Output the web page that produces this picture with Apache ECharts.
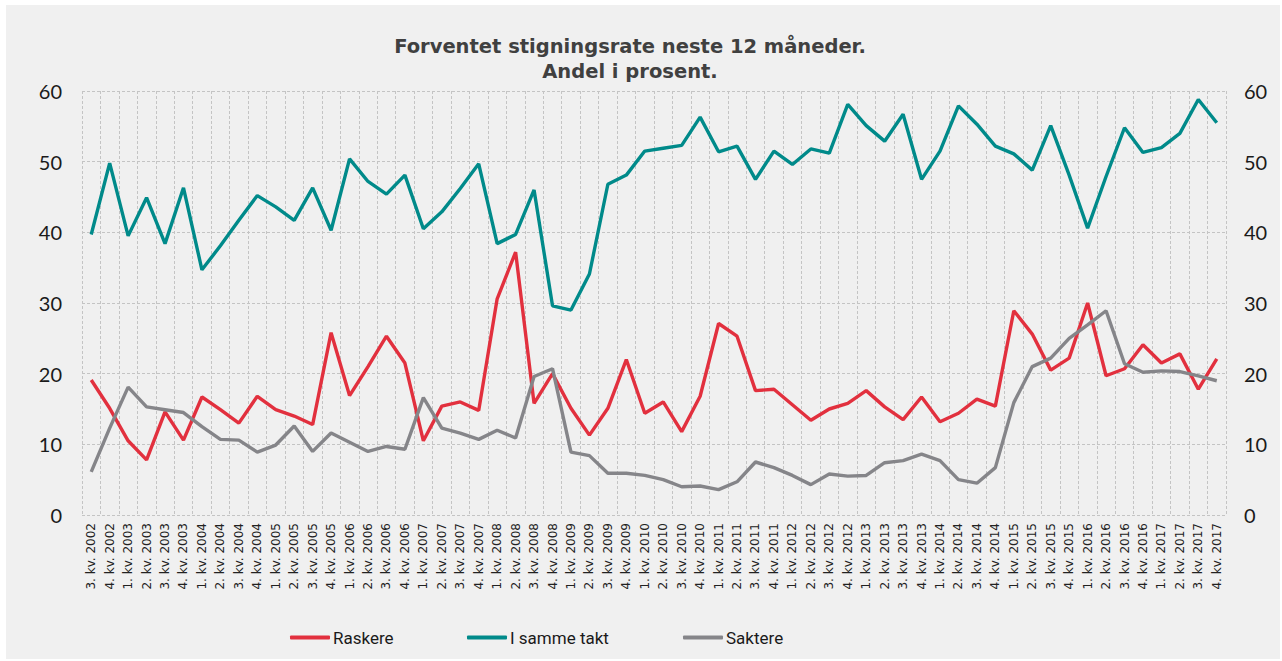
<!DOCTYPE html>
<html lang="no">
<head>
<meta charset="UTF-8">
<title>Forventet stigningsrate</title>
<script src="https://cdn.jsdelivr.net/npm/echarts@6/dist/echarts.min.js"></script>
<style>
  html, body { margin: 0; padding: 0; background: #fff; }
  #box { position: absolute; left: 6px; top: 5px; width: 1274px; height: 654px; background: #f0f0f0; }
  #chart { position: absolute; left: -6px; top: -5px; width: 1282px; height: 661px; }
</style>
</head>
<body>
<div id="box"><div id="chart"></div></div>
<script>
// kvartaler 3. kv. 2002 - 4. kv. 2017
var quarters = [];
quarters.push('3. kv. 2002', '4. kv. 2002');
for (var yr = 2003; yr <= 2017; yr++) {
    for (var q = 1; q <= 4; q++) quarters.push(q + '. kv. ' + yr);
}

var raskere = [19.1, 15.1, 10.5, 7.8, 14.6, 10.6, 16.7, 14.9, 13.0, 16.8,
    14.9, 14.0, 12.8, 25.8, 16.9, 21.0, 25.3, 21.5, 10.5, 15.4,
    16.0, 14.8, 30.6, 37.2, 15.8, 20.0, 15.1, 11.3, 15.1, 22.0,
    14.4, 16.0, 11.8, 16.8, 27.1, 25.3, 17.6, 17.8, 15.6, 13.4,
    15.0, 15.8, 17.6, 15.3, 13.5, 16.7, 13.2, 14.4, 16.4, 15.4,
    28.9, 25.6, 20.5, 22.2, 30.0, 19.7, 20.7, 24.1, 21.5, 22.8,
    17.8, 22.1];

var sammeTakt = [39.7, 49.8, 39.5, 44.9, 38.4, 46.3, 34.7, 38.1, 41.7, 45.2,
    43.6, 41.7, 46.3, 40.3, 50.4, 47.2, 45.4, 48.1, 40.5, 42.9,
    46.2, 49.7, 38.4, 39.7, 46.0, 29.6, 29.0, 34.1, 46.8, 48.1,
    51.5, 51.9, 52.3, 56.3, 51.4, 52.2, 47.5, 51.5, 49.6, 51.8,
    51.2, 58.1, 55.1, 52.9, 56.7, 47.5, 51.5, 57.9, 55.3, 52.2,
    51.1, 48.8, 55.1, 48.1, 40.6, 47.9, 54.8, 51.3, 52.0, 54.0,
    58.8, 55.5];

var saktere = [6.1, 12.3, 18.1, 15.3, 14.9, 14.5, 12.5, 10.7, 10.6, 8.9,
    9.9, 12.6, 9.0, 11.6, 10.3, 9.0, 9.7, 9.3, 16.6, 12.3,
    11.6, 10.7, 12.0, 10.9, 19.6, 20.7, 8.9, 8.4, 5.9, 5.9,
    5.6, 5.0, 4.0, 4.1, 3.6, 4.7, 7.5, 6.7, 5.6, 4.3,
    5.8, 5.5, 5.6, 7.4, 7.7, 8.6, 7.7, 5.0, 4.5, 6.7,
    15.9, 21.0, 22.2, 25.0, 26.9, 28.9, 21.4, 20.2, 20.4, 20.3,
    19.7, 19.0];

var seriesNames = ['Raskere', 'I samme takt', 'Saktere'];
var seriesColors = ['#e2303e', '#008a8a', '#858589'];
var legendLeft = [290, 467, 683];

var chart = echarts.init(document.getElementById('chart'), null, {renderer: 'svg'});

var gridLine = {show: true, lineStyle: {color: '#c4c4c4', type: [3, 2], width: 1}};
var valueLabel = {color: '#1a1a1a', fontSize: 20, fontFamily: 'Lato'};

// en legende per serie, så de står der de står i originalen
var legends = seriesNames.map(function (name, i) {
    return {
        bottom: 15,
        left: legendLeft[i],
        padding: 0,
        itemWidth: 40,
        itemHeight: 4,
        icon: 'roundRect',
        textStyle: {color: '#1a1a1a', fontSize: 17, fontFamily: 'Roboto', padding: [0, 0, 0, -2]},
        data: [name]
    };
});

chart.setOption({
    backgroundColor: 'transparent',
    title: {
        text: 'Forventet stigningsrate neste 12 måneder.\nAndel i prosent.',
        left: 625,
        textAlign: 'center',
        top: 29,
        textStyle: {
            color: '#404040',
            fontSize: 19.5,
            fontWeight: 'bold',
            fontFamily: 'DejaVu Sans',
            lineHeight: 25
        }
    },
    legend: legends,
    grid: {left: 82, right: 56, top: 91, bottom: 146},
    xAxis: {
        type: 'category',
        data: quarters,
        boundaryGap: true,
        axisLine: {show: false},
        axisTick: {show: false},
        splitLine: gridLine,
        axisLabel: {
            interval: 0,
            rotate: 90,
            margin: 8,
            fontSize: 12,
            color: '#222',
            fontFamily: 'DejaVu Sans'
        }
    },
    yAxis: [
        {
            type: 'value', min: 0, max: 60, interval: 10,
            axisLine: {show: false}, axisTick: {show: false},
            splitLine: gridLine,
            axisLabel: Object.assign({margin: 20}, valueLabel)
        },
        {
            type: 'value', min: 0, max: 60, interval: 10,
            axisLine: {show: false}, axisTick: {show: false},
            splitLine: {show: false},
            axisLabel: Object.assign({margin: 18}, valueLabel)
        }
    ],
    series: [raskere, sammeTakt, saktere].map(function (d, i) {
        return {
            name: seriesNames[i],
            type: 'line',
            data: d,
            symbol: 'none',
            color: seriesColors[i],
            lineStyle: {width: 3.4, color: seriesColors[i]}
        };
    })
});
</script>
</body>
</html>
